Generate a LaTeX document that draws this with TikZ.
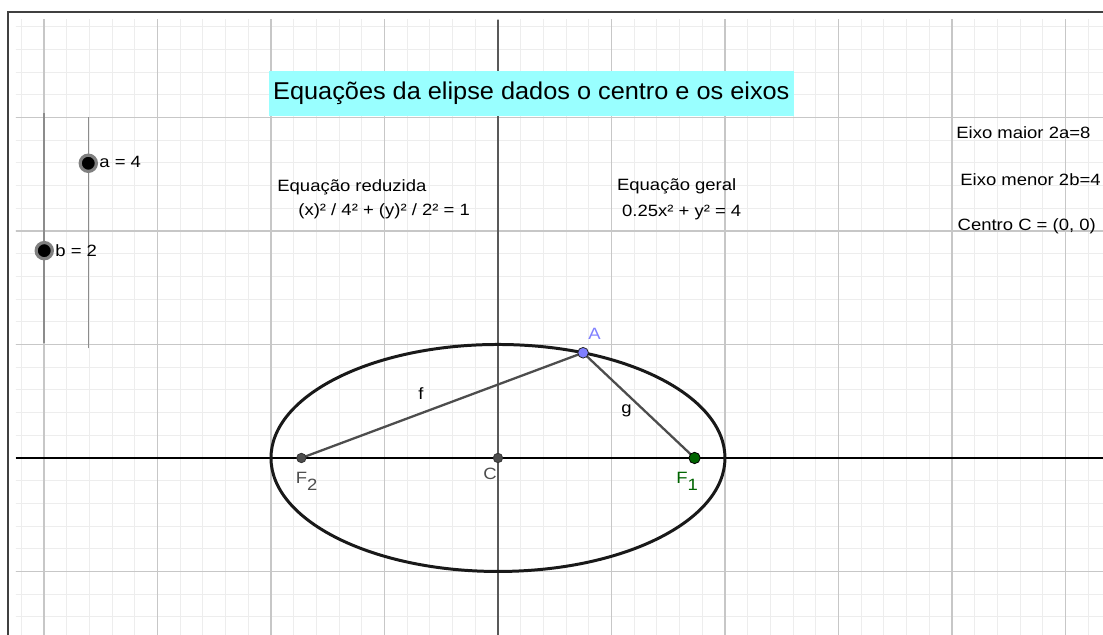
\documentclass[tikz,border=0pt]{standalone}
\usepackage{fontspec}
\setmainfont{Liberation Sans}
\newfontfamily\lblfont[FakeStretch=1.13]{Liberation Sans}
\newfontfamily\titlefont[FakeStretch=1.04]{Liberation Sans}
\definecolor{titlecyan}{HTML}{99FFFF}
\definecolor{ptgray}{HTML}{4D4D4D}
\definecolor{focusgreen}{HTML}{006400}
\definecolor{movblue}{HTML}{7F7FFF}
\tikzset{
  gridminor/.style={draw=black!7, line width=0.5pt},
  gridmajor/.style={draw=black!22, line width=0.65pt},
  lbl/.style={inner sep=0pt, anchor=base west, font=\lblfont\fontsize{8.2}{9.8}\selectfont},
  ptnode/.style={circle, inner sep=0pt, minimum size=#1, line width=0.4pt},
  knob/.style={circle, inner sep=0pt, minimum size=0.286cm, fill=black, draw=black!50, line width=1.6pt},
  titlebox/.style={fill=titlecyan, inner sep=0pt, minimum width=9.257cm, minimum height=0.793cm, font=\titlefont\fontsize{12.2}{14}\selectfont},
  segline/.style={draw=ptgray, line width=1.15pt},
}
\begin{document}
\begin{tikzpicture}
    \useasboundingbox (-8.775,-3.119) rectangle (10.661,8.070);

    % Grid
    \begin{scope}
        \clip (-8.493,-3.2) rectangle (10.7,7.718);
        \draw[gridminor, step=0.4] (-8.8,-3.2) grid (10.8,7.8);
        \draw[gridmajor, step=2] (-8.8,-3.2) grid (10.8,7.8);
    \end{scope}

    % Frame
    \draw[black!75, line width=1pt] (-8.634,-3.119) -- (-8.634,7.864) -- (10.661,7.864);

    % Axes
    \draw[black, line width=0.65pt] (-8.493,0) -- (10.661,0);
    \draw[black!65, line width=0.9pt] (0,-3.119) -- (0,7.718);

    % Title
    \node[titlebox] (title) at (0.588,6.423) {Equações da elipse dados o centro e os eixos};

    % Sliders a and b
    \draw[black!45, line width=0.8pt] (-7.995,2.021) -- (-7.995,6.074);
    \draw[black!45, line width=0.8pt] (-7.219,1.933) -- (-7.219,6.014);
    \node[knob] (aknob) at (-7.219,5.193) {};
    \node[lbl] (alab) at (-7.031,5.119) {a = 4};
    \node[knob] (bknob) at (-7.995,3.653) {};
    \node[lbl] (blab) at (-7.806,3.559) {b = 2};

    % Equations
    \node[lbl] (redhead) at (-3.894,4.687) {Equação reduzida};
    \node[lbl] (redeq) at (-3.524,4.264) {(x)² / 4² + (y)² / 2² = 1};
    \node[lbl] (gerhead) at (2.092,4.710) {Equação geral};
    \node[lbl] (gereq) at (2.180,4.252) {0.25x² + y² = 4};

    % Axes lengths and centre
    \node[lbl] (maior) at (8.070,5.633) {Eixo maior 2a=8};
    \node[lbl] (menor) at (8.141,4.793) {Eixo menor 2b=4};
    \node[lbl] (centro) at (8.093,4.005) {Centro C = (0, 0)};

    % Ellipse
    \draw[black!90, line width=1.5pt] (0,0) ellipse [x radius=4, y radius=2];

    % Foci, centre and point A
    \coordinate (F2) at (-3.464,0);
    \coordinate (C) at (0,0);
    \coordinate (F1) at (3.464,0);
    \coordinate (A) at (1.5,1.854);

    \draw[segline] (F2) -- (A);
    \draw[segline] (A) -- (F1);
    \node[lbl] (flab) at (-1.41,1.022) {f};
    \node[lbl] (glab) at (2.167,0.788) {g};

    \node[ptnode=0.166cm, fill=ptgray, draw=black!80] (F2pt) at (F2) {};
    \node[ptnode=0.166cm, fill=ptgray, draw=black!80] (Cpt) at (C) {};
    \node[ptnode=0.2cm, fill=focusgreen, draw=black] (F1pt) at (F1) {};
    \node[ptnode=0.188cm, fill=movblue, draw=black!85] (Apt) at (A) {};

    \node[lbl, text=ptgray] (F2lab) at (-3.568,-0.446) {F\raisebox{-3.7pt}{2}};
    \node[lbl, text=ptgray] (Clab) at (-0.264,-0.375) {C};
    \node[lbl, text=focusgreen] (F1lab) at (3.137,-0.446) {F\raisebox{-3.7pt}{1}};
    \node[lbl, text=movblue] (Alab) at (1.586,2.079) {A};

\end{tikzpicture}
\end{document}
